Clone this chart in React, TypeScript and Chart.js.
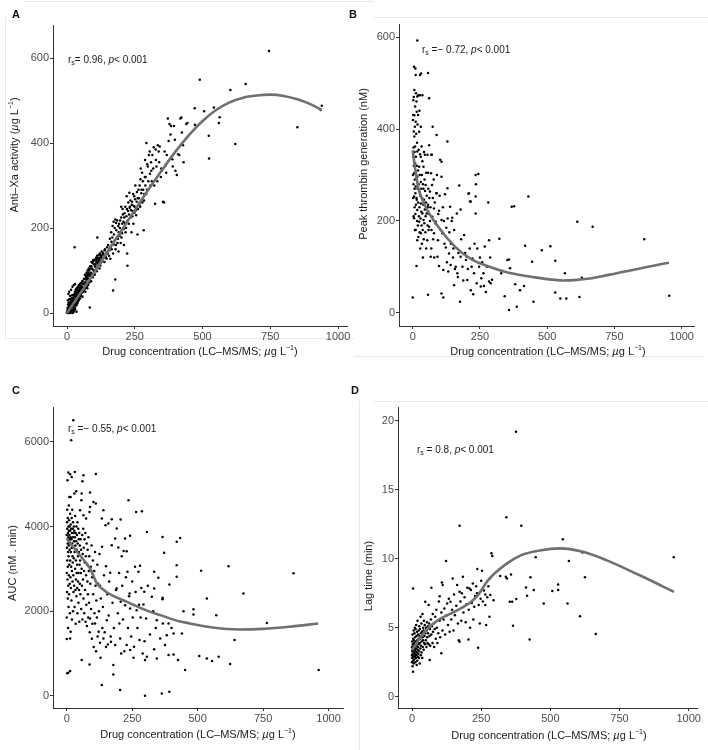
import React, { useEffect, useRef } from "react";
import { Chart, registerables } from "chart.js";
Chart.register(...registerables);

const FONT = '"Liberation Sans", Arial, Helvetica, sans-serif';

// ---------- tick labels ----------
const concTicks = [0, 250, 500, 750, 1000];
const antiXaTicks = [0, 200, 400, 600];
const peakTicks = [0, 200, 400, 600];
const aucTicks = [0, 2000, 4000, 6000];
const lagTicks = [0, 5, 10, 15, 20];

// ---------- Panel A: anti-Xa activity ----------
const antiXaPoints: [number, number][] = [
  [0,2],[1,5],[2,0],[2,12],[3,8],[3,30],[4,3],[4,20],[5,10],[5,1],[5,45],[6,14],[6,25],[7,6],[7,0],[8,4],[8,18],[8,50],[9,12],[9,33],[10,18],[10,7],[10,2],[11,2],[11,24],[12,15],[12,40],[12,0],[13,22],[13,6],[14,9],[14,30],[15,12],[15,55],[15,3],[16,26],[16,18],[17,16],[17,35],[18,5],[18,28],[19,20],[19,42],[20,30],[20,0],[20,62],[21,14],[21,22],[22,24],[22,36],[23,9],[23,2],[24,35],[24,18],[25,19],[25,5],[25,66],[26,28],[26,44],[27,40],[27,12],[28,22],[28,33],[29,13],[29,50],[30,33],[30,8],[30,68],[31,45],[31,25],[32,26],[32,55],[33,38],[33,18],[34,18],[34,44],[35,50],[35,3],[35,30],[36,30],[36,58],[37,42],[37,22],[38,55],[38,35],[39,24],[39,48],[40,36],[40,62],[41,48],[41,28],[42,60],[42,40],[43,30],[43,52],[44,45],[44,66],[45,39],[45,55],[46,66],[46,35],[47,52],[47,42],[48,34],[48,60],[49,58],[49,46],[50,44],[50,70],[51,64],[51,50],[52,40],[52,58],[53,55],[54,70],[54,48],[55,48],[55,62],[56,62],[56,75],[57,38],[57,55],[58,74],[58,60],[59,56],[60,50],[60,68],[28,155],
  [62,68],[62,80],[63,55],[64,80],[65,62],[66,58],[66,90],[67,72],[68,72],[68,50],[69,88],[70,85],[70,64],[71,78],[72,62],[72,95],[73,82],[74,90],[74,70],[75,58],[76,70],[76,100],[77,86],[78,95],[78,66],[79,80],[80,78],[80,105],[81,92],[82,100],[82,72],[83,88],[84,13],[85,88],[85,110],[86,76],[87,105],[88,95],[89,75],[90,110],[90,120],[91,85],[92,92],[93,104],[94,118],[95,84],[96,125],[97,122],[98,100],[99,100],[100,115],[100,125],[101,92],[102,90],[103,110],[104,126],[105,115],[106,108],[107,130],[108,120],[109,125],[110,98],[111,135],[112,130],[112,178],[113,118],[114,112],[115,128],[116,136],[117,122],[118,125],[119,138],[120,105],[121,130],[122,140],[123,112],[124,118],[125,135],[126,132],[127,125],[128,145],[129,130],[130,122],[131,138],[132,128],[133,142],[135,138],[136,130],[138,120],[139,148],[140,150],[141,135],[143,132],[145,142],[146,128],[148,155],[150,140],
  [152,160],[155,135],[156,148],[158,175],[160,128],[161,155],[163,190],[164,168],[165,150],[167,178],[168,205],[170,53],[170,140],[171,162],[172,215],[173,185],[175,170],[176,200],[178,79],[178,220],[179,150],[180,160],[181,212],[182,195],[184,178],[185,218],[186,165],[188,175],[189,205],[190,145],[191,190],[192,210],[194,182],[195,200],[196,218],[198,165],[199,192],[200,225],[200,250],[201,178],[203,188],[204,210],[205,245],[206,232],[208,215],[209,198],[210,160],[211,225],[212,235],[214,212],[215,250],[216,190],[218,200],[219,228],[220,275],[221,245],[222,140],[223,111],[224,218],[225,240],[226,260],[228,210],[229,232],[230,283],[231,248],[232,250],[234,265],[235,225],[236,242],[238,190],[239,255],[240,262],[241,228],[242,240],[244,280],[245,210],[246,252],[248,275],[249,236],[250,250],[251,268],[252,300],[254,242],[255,230],[257,262],[258,285],[260,185],[261,270],[262,245],[264,290],[265,270],[267,255],
  [268,300],[270,250],[271,315],[272,340],[274,282],[275,290],[277,330],[278,260],[280,310],[281,290],[283,195],[284,265],[285,280],[287,320],[288,360],[289,300],[290,320],[292,280],[293,400],[295,290],[296,350],[298,345],[300,310],[302,372],[305,380],[306,328],[308,300],[310,355],[311,335],[313,310],[315,372],[318,340],[320,390],[322,300],[325,257],[327,385],[328,360],[330,345],[333,310],[335,395],[338,380],[340,355],[342,392],[346,320],[348,340],[350,335],[354,262],[358,260],[360,380],[362,346],[366,330],[368,372],[372,458],[375,405],[378,445],[382,420],[384,440],[388,362],[390,345],[395,440],[398,408],[400,335],[405,325],[410,374],[414,372],[418,458],[422,460],[424,425],[428,395],[430,355],[440,445],
  [444,447],[471,482],[472,443],[490,549],[506,475],[523,417],[524,364],[542,484],[560,447],[563,461],[603,525],[621,398],[659,539],[745,617],[850,437],[936,478],[940,488]
];
const antiXaCurve: [number, number][] = [
  [0,0],[50,47],[100,95],[150,145],[200,193],[250,242],[300,290],[350,336],[400,380],[450,419],[500,452],[550,478],[600,496],[650,507],[700,512],[750,514],[800,511],[850,503],[900,491],[940,478]
];

// ---------- Panel B: peak thrombin generation ----------
const peakPoints: [number, number][] = [
  [0,33],[1,300],[1,420],[2,463],[2,431],[2,340],[2,250],[3,360],[3,280],[3,210],[4,470],[4,395],[4,320],[5,536],[5,253],[5,304],[5,206],[6,384],[6,485],[6,430],[7,270],[7,350],[7,230],[8,405],[8,290],[8,180],[9,325],[9,449],[9,362],[10,532],[10,260],[10,215],[11,518],[11,416],[11,275],[11,180],[12,478],[12,340],[12,235],[13,300],[13,390],[14,102],[14,250],[14,460],[15,438],[15,246],[15,320],[16,200],[16,370],[17,593],[17,471],[17,351],[17,296],[17,224],[17,158],[18,410],[18,270],[19,190],[20,431],[20,310],[20,240],[21,474],[21,165],[22,355],[22,280],[23,210],[24,394],[24,318],[24,264],[24,198],[25,440],[25,230],[26,300],[26,175],[27,518],[27,474],[27,345],[28,255],[28,140],[29,205],[30,405],[30,340],[30,285],[30,238],[30,173],[31,521],[32,270],[32,220],[33,362],[33,190],[34,300],[34,150],[35,250],[36,474],[36,216],[36,330],[37,180],[38,280],[38,120],[39,235],[40,318],[40,202],[40,270],[41,160],[42,246],[42,350],[43,195],[44,290],[45,344],[45,225],[46,265],[47,175],[48,278],[48,210],[49,240],[50,305],[50,140],[52,216],[52,255],[54,158],[55,344],[55,190],[56,230],[57,522],[57,305],[57,235],[57,39],[58,270],[59,180],[60,215],
  [61,365],[61,187],[61,467],[62,250],[64,264],[64,200],[66,230],[67,122],[68,304],[69,140],[69,344],[70,180],[71,344],[72,278],[73,209],[74,405],[75,250],[76,160],[78,290],[79,227],[79,173],[80,120],[82,240],[84,195],[86,198],[88,260],[89,387],[89,260],[90,300],[92,122],[94,158],[95,215],[98,222],[98,102],[100,255],[102,333],[104,180],[107,329],[107,296],[107,202],[107,42],[110,173],[112,230],[114,93],[114,33],[116,200],[118,150],[120,258],[123,142],[125,185],[127,110],[129,373],[129,271],[130,205],[132,90],[135,129],[136,175],[139,231],[141,104],[142,150],[145,200],[147,207],[150,120],[151,140],[154,180],[154,60],[157,95],[160,100],
  [164,216],[166,86],[168,78],[170,130],[173,277],[176,24],[178,225],[178,122],[180,160],[185,100],[188,70],[191,169],[195,130],[198,115],[201,122],[203,71],[205,95],[207,259],[209,260],[212,140],[213,242],[216,242],[216,49],[219,100],[222,118],[225,40],[228,86],[230,150],[234,300],[234,253],[234,216],[235,280],[238,64],[240,140],[244,302],[247,100],[250,120],[253,57],[255,75],[258,110],[263,86],[265,58],[268,144],[272,45],[276,100],[281,240],[284,68],[284,158],[288,120],[290,64],[295,72],
  [322,161],[329,86],[342,36],[352,115],[358,116],[358,6],[362,97],[368,231],[377,232],[381,62],[387,13],[399,49],[414,58],[418,146],[430,253],[444,111],[449,24],[480,136],[512,145],[530,113],[530,44],[549,31],[566,86],[571,31],[612,198],[620,34],[629,76],[669,187],[861,160],[954,37]
];
const peakCurve: [number, number][] = [
  [0,354],[10,310],[21,272],[46,233],[95,187],[157,144],[219,116],[280,101],[343,89],[400,82],[455,77],[520,72],[560,70],[600,71],[650,74],[700,79],[750,85],[800,91],[850,97],[900,103],[953,109]
];

// ---------- Panel C: AUC ----------
const aucPoints: [number, number][] = [
  [0,3800],[0,2900],[0,1850],[0,1340],[1,4100],[1,3500],[1,2450],[2,4400],[2,3950],[2,3200],[2,530],[3,3700],[3,2750],[3,5094],[4,4200],[4,3600],[4,3050],[4,2300],[5,3850],[5,3400],[5,1600],[6,5276],[6,4000],[6,3750],[6,2600],[6,543],[7,3300],[7,2100],[8,4500],[8,3900],[8,3550],[8,2850],[9,4150],[9,3650],[9,2400],[10,3800],[10,3100],[10,4700],[11,4000],[11,3450],[11,2650],[12,3700],[12,1950],[13,5236],[13,4300],[13,3900],[13,3200],[13,583],[13,1354],[14,3600],[14,2800],[15,4701],[15,4050],[15,3750],[15,1512],[16,3400],[16,2550],[17,6039],[17,3950],[17,3050],[18,3700],[18,2250],[19,5173],[19,4200],[19,3500],[20,3850],[20,2950],[20,1800],[21,4400],[21,3600],[22,3300],[22,2700],[23,3950],[23,3150],[24,4100],[24,3750],[24,2000],[25,6512],[25,3500],[25,2850],[26,3850],[26,2450],[27,4000],[27,3250],[28,3650],[28,2600],[29,4780],[29,3900],[30,3400],[30,2100],[31,5291],[31,3750],[32,3000],[32,4250],[33,3550],[33,2500],[34,3850],[34,1700],[35,3200],[35,2750],[36,4835],[36,3650],[37,4000],[37,2350],[38,3450],[38,2900],[39,3800],[40,3100],[40,2550],[41,4100],[41,1950],[42,3600],[43,3300],[43,2700],[44,3950],[45,2900],[45,2200],[46,3700],[47,3400],[47,2500],[48,3850],[48,1750],[49,3100],[50,3550],[50,2650],
  [51,4386],[51,3200],[52,2400],[53,3700],[54,2900],[55,3450],[55,2050],[56,4622],[57,4780],[57,843],[57,3000],[58,2600],[59,3800],[60,5071],[60,1800],[61,3350],[62,2750],[63,3950],[64,5213],[64,4268],[64,2300],[65,3500],[66,2950],[67,1950],[68,3700],[69,3150],[70,2500],[71,3850],[72,1750],[73,3300],[74,4189],[74,2850],[75,2150],[76,3600],[77,1650],[78,3100],[79,2700],[80,3450],[81,2400],[82,1850],[83,3750],[84,2950],[85,2200],[86,3300],[87,4346],[87,740],[88,1500],[89,4803],[89,4465],[89,1827],[90,2650],[92,3050],[93,2050],[95,3550],[96,1350],[97,2800],[98,1700],[100,3200],[101,2400],[102,4583],[103,1150],[105,2950],[106,1950],[108,1709],[108,3400],[110,2600],[111,5244],[111,4543],[112,1050],[113,2250],[115,1850],[117,3100],[118,1400],[120,2650],[122,1512],[123,2000],[125,3350],[127,2598],[127,1250],[129,900],[130,2300],
  [134,4189],[134,252],[135,3520],[136,1600],[138,2100],[140,4386],[140,1354],[142,2850],[145,1500],[148,4031],[150,3063],[150,1150],[153,1787],[155,2400],[157,1213],[159,4071],[160,1900],[162,2700],[166,2906],[168,1400],[169,1276],[172,4173],[172,3559],[175,2200],[178,724],[178,504],[180,1600],[185,3717],[185,1197],[188,2500],[191,3953],[191,2535],[195,1950],[197,3504],[200,2900],[201,1709],[204,1354],[204,134],[206,4165],[206,2220],[208,1000],[210,3300],[212,2600],[215,1800],[217,3425],[220,1050],[223,3717],[223,2142],[226,2800],[229,3417],[229,1197],[232,2929],[234,1600],[236,4622],[238,2350],[240,2417],[242,3780],[242,2063],[242,1079],[246,1400],[250,2700],[252,1850],[255,900],[257,1157],[261,3047],[263,2450],[265,4346],[267,2024],[270,1600],[274,2929],[276,2150],[278,1315],[280,3071],[282,1850],[285,2550],[287,4362],[290,1000],[293,2157],[296,2457],[297,1291],[299,843],[299,0],
  [303,1827],[306,3874],[306,921],[310,2600],[318,1450],[325,2339],[330,2000],[334,2929],[334,2535],[334,1102],[340,1600],[344,1787],[344,882],[350,2787],[357,1354],[363,55],[366,3756],[366,2283],[366,2315],[367,1709],[372,3378],[375,1200],[382,1433],[389,1709],[389,961],[392,2630],[392,94],[400,1600],[408,1472],[408,976],[420,3638],[420,3087],[420,2811],[425,843],[433,3732],[440,1472],[446,2000],[452,606],[484,2047],[484,1921],[506,937],[513,2953],[535,2299],[535,882],[555,819],[571,1905],[580,921],[618,3063],[624,748],[641,1315],[675,2417],[764,1717],[866,2898],[962,606]
];
const aucCurve: [number, number][] = [
  [0,3717],[50,3323],[90,3000],[115,2660],[150,2460],[230,2220],[300,2030],[360,1900],[430,1760],[470,1710],[550,1620],[660,1567],[750,1580],[850,1630],[960,1709]
];

// ---------- Panel D: lag time ----------
const lagPoints: [number, number][] = [
  [0,3.0],[0,3.6],[0,2.5],[1,4.0],[1,3.3],[1,2.8],[2,4.5],[2,3.1],[2,2.2],[3,3.8],[3,2.9],[3,3.4],[4,7.85],[4,1.81],[4,4.2],[4,2.6],[5,3.5],[5,3.0],[6,4.8],[6,2.4],[6,3.7],[7,3.2],[7,4.1],[8,2.7],[8,3.9],[9,3.4],[9,4.6],[10,2.9],[10,3.6],[10,5.0],[11,4.3],[11,3.1],[12,2.5],[12,3.8],[13,4.9],[13,3.3],[14,2.8],[14,4.0],[15,3.5],[15,5.2],[16,3.0],[16,4.4],[17,2.3],[17,3.7],[18,4.7],[18,3.2],[19,2.6],[19,4.1],[20,3.9],[20,5.5],[21,3.4],[21,2.9],[22,4.5],[22,3.6],[23,3.1],[24,4.8],[24,4.2],[25,2.8],[25,3.8],[26,5.1],[26,3.3],[27,4.4],[28,2.4],[28,3.9],[29,4.9],[30,3.5],[30,4.2],[31,5.8],[32,3.0],[32,4.6],[33,3.7],[34,5.3],[35,4.0],[35,3.2],[36,4.7],[37,2.8],[38,4.3],[38,6.0],[39,3.6],[40,5.0],[40,4.1],[42,3.4],[42,4.8],[43,5.5],[44,3.9],[45,4.4],[46,5.2],[47,3.8],[48,6.88],[48,4.6],[50,4.1],[50,5.0],[52,3.6],[53,4.8],[54,5.4],[55,4.3],[56,3.9],[57,5.1],[58,4.6],[60,6.64],[60,3.8],[62,5.3],[63,4.4],[64,2.66],[65,4.9],[66,3.7],[68,5.6],[70,7.9],[70,4.5],[72,5.1],[74,3.9],[75,6.0],[76,4.7],[78,5.3],[80,3.6],[82,4.9],[84,5.8],[86,4.2],[88,6.3],[90,5.0],[92,3.9],[95,4.6],[97,6.9],[100,7.29],[100,5.5],[102,4.3],[106,3.14],[106,6.1],[108,8.28],[110,4.8],[111,8.09],[114,5.6],[117,6.4],[120,4.5],[123,9.83],[125,5.9],[127,6.76],[130,5.2],[133,7.1],[136,4.7],[139,6.88],[142,5.6],[145,6.3],[147,8.57],[150,4.8],[152,7.4],[155,5.9],[160,6.6],[163,8.09],[166,5.3],[169,4.1],[172,3.98],[172,7.61],[172,12.4],[175,6.9],[178,5.5],[180,7.5],[184,8.69],[186,6.1],[190,7.2],[194,5.4],[197,6.7],[200,7.9],[204,4.15],[205,6.3],[208,7.85],[210,5.0],[213,7.73],[216,6.8],[220,8.2],[222,5.6],[225,6.52],[228,7.3],[232,8.0],[235,7.49],[236,9.25],[239,3.55],[241,6.64],[245,5.3],[248,7.1],[250,8.4],[253,9.13],[256,6.9],[260,7.7],[265,7.41],[265,6.64],[268,5.2],[272,7.2],[276,8.0],[280,5.8],[281,8.57],[283,7.37],[287,10.4],[290,10.2],[295,7.0],
  [319,8.74],[339,8.69],[341,13.0],[343,8.57],[353,6.88],[358,8.86],[362,6.88],[365,5.14],[376,19.2],[377,7.08],[395,12.4],[412,7.92],[416,7.32],[425,4.15],[428,8.65],[440,7.73],[447,10.1],[476,6.76],[507,7.66],[528,7.73],[528,8.14],[545,11.42],[562,6.76],[567,9.83],[607,5.84],[616,10.46],[625,8.65],[664,4.54],[946,10.1]
];
const lagCurve: [number, number][] = [
  [0,3.38],[46,4.71],[94,5.55],[154,6.16],[214,6.88],[240,7.4],[275,8.45],[335,9.54],[395,10.26],[462,10.6],[534,10.75],[618,10.5],[702,9.9],[823,8.8],[947,7.6]
];

// ---------- text ----------
type Seg = { t: string; i?: boolean; sup?: boolean; sub?: boolean };
const concTitle: Seg[] = [{ t: "Drug concentration (LC\u2013MS/MS; " }, { t: "\u00b5", i: true }, { t: "g L" }, { t: "\u22121", sup: true }, { t: ")" }];
const antiXaTitle: Seg[] = [{ t: "Anti\u2013Xa activity (" }, { t: "\u00b5", i: true }, { t: "g L" }, { t: "\u22121", sup: true }, { t: ")" }];
const peakTitle: Seg[] = [{ t: "Peak thrombin generation (nM)" }];
const aucTitle: Seg[] = [{ t: "AUC (nM . min)" }];
const lagTitle: Seg[] = [{ t: "Lag time (min)" }];
const noteA: Seg[] = [{ t: "r" }, { t: "s", sub: true }, { t: "= 0.96, " }, { t: "p", i: true }, { t: "< 0.001" }];
const noteB: Seg[] = [{ t: "r" }, { t: "s", sub: true }, { t: " =\u2212 0.72, " }, { t: "p", i: true }, { t: "< 0.001" }];
const noteC: Seg[] = [{ t: "r" }, { t: "s", sub: true }, { t: " =\u2212 0.55, " }, { t: "p", i: true }, { t: "< 0.001" }];
const noteD: Seg[] = [{ t: "r" }, { t: "s", sub: true }, { t: " = 0.8, " }, { t: "p", i: true }, { t: "< 0.001" }];

function drawRich(ctx: CanvasRenderingContext2D, segs: Seg[], x: number, y: number, size: number, align: "left" | "center", color: string) {
  const fontFor = (s: Seg) => `${s.i ? "italic " : ""}${s.sup || s.sub ? Math.round(size * 0.68) : size}px ${FONT}`;
  const widths = segs.map((s) => { ctx.font = fontFor(s); return ctx.measureText(s.t).width; });
  const total = widths.reduce((a, b) => a + b, 0);
  let cx = align === "center" ? x - total / 2 : x;
  ctx.fillStyle = color;
  ctx.textAlign = "left";
  ctx.textBaseline = "middle";
  segs.forEach((s, k) => {
    ctx.font = fontFor(s);
    const dy = s.sup ? -size * 0.38 : s.sub ? size * 0.3 : 0;
    ctx.fillText(s.t, cx, y + dy);
    cx += widths[k];
  });
}

interface PanelSpec {
  left: number; top: number; width: number; height: number;
  yAxisWidth: number; padTop: number; padRight: number; xAxisHeight: number;
  xMin: number; xMax: number; yMin: number; yMax: number; yTicks: number[];
  points: [number, number][]; curve: [number, number][];
  xTitle: Seg[]; yTitle: Seg[]; note: Seg[];
  xTitlePos: [number, number]; yTitlePos: [number, number]; notePos: [number, number];
}

const panels: PanelSpec[] = [
  { left: 0, top: 0, width: 354, height: 375, yAxisWidth: 53, padTop: 25, padRight: 7, xAxisHeight: 49,
    xMin: -51.7, xMax: 1033, yMin: -30.6, yMax: 678, yTicks: antiXaTicks, points: antiXaPoints, curve: antiXaCurve,
    xTitle: concTitle, yTitle: antiXaTitle, note: noteA, xTitlePos: [200, 352], yTitlePos: [15, 155], notePos: [68, 60] },
  { left: 354, top: 0, width: 354, height: 375, yAxisWidth: 45, padTop: 24, padRight: 14, xAxisHeight: 49,
    xMin: -51, xMax: 1046, yMin: -29, yMax: 629, yTicks: peakTicks, points: peakPoints, curve: peakCurve,
    xTitle: concTitle, yTitle: peakTitle, note: noteB, xTitlePos: [194, 352], yTitlePos: [10, 164], notePos: [68, 50] },
  { left: 0, top: 375, width: 354, height: 375, yAxisWidth: 53, padTop: 32, padRight: 11, xAxisHeight: 42,
    xMin: -52.4, xMax: 1055, yMin: -290, yMax: 6827, yTicks: aucTicks, points: aucPoints, curve: aucCurve,
    xTitle: concTitle, yTitle: aucTitle, note: noteC, xTitlePos: [198, 360], yTitlePos: [13, 188], notePos: [68, 54] },
  { left: 354, top: 375, width: 354, height: 375, yAxisWidth: 44, padTop: 32, padRight: 11, xAxisHeight: 42,
    xMin: -50.6, xMax: 1030, yMin: -0.82, yMax: 21.0, yTicks: lagTicks, points: lagPoints, curve: lagCurve,
    xTitle: concTitle, yTitle: lagTitle, note: noteD, xTitlePos: [195, 361], yTitlePos: [15, 201], notePos: [63, 75] },
];

const letters: { t: string; x: number; y: number }[] = [
  { t: "A", x: 12, y: 9 }, { t: "B", x: 349, y: 9 }, { t: "C", x: 12, y: 385 }, { t: "D", x: 351, y: 385 },
];

const frameLines: { x: number; y: number; w: number; h: number }[] = [
  { x: 25, y: 1, w: 349, h: 1 }, { x: 5, y: 17, w: 1, h: 321 }, { x: 5, y: 338, w: 349, h: 1 },
  { x: 374, y: 17, w: 334, h: 1 }, { x: 354, y: 356, w: 350, h: 1 },
  { x: 374, y: 401, w: 334, h: 1 }, { x: 359, y: 401, w: 1, h: 349 },
];

function Panel({ spec }: { spec: PanelSpec }) {
  const ref = useRef<HTMLCanvasElement>(null);
  useEffect(() => {
    if (!ref.current) return;
    const axisColor = "#333333";
    const tickFont = { family: FONT, size: 11 };
    const titlePlugin = {
      id: "richTitles",
      afterDraw(chart: any) {
        const ctx = chart.ctx as CanvasRenderingContext2D;
        ctx.save();
        drawRich(ctx, spec.xTitle, spec.xTitlePos[0], spec.xTitlePos[1], 11, "center", "#1a1a1a");
        ctx.save();
        ctx.translate(spec.yTitlePos[0], spec.yTitlePos[1]);
        ctx.rotate(-Math.PI / 2);
        drawRich(ctx, spec.yTitle, 0, 0, 11, "center", "#1a1a1a");
        ctx.restore();
        drawRich(ctx, spec.note, spec.notePos[0], spec.notePos[1], 10, "left", "#1a1a1a");
        ctx.restore();
      },
    };
    const chart = new Chart(ref.current, {
      type: "scatter",
      data: {
        datasets: [
          {
            data: spec.curve.map(([x, y]) => ({ x, y })),
            showLine: true,
            borderColor: "#707070",
            borderWidth: 2.6,
            pointRadius: 0,
            cubicInterpolationMode: "monotone",
            fill: false,
            order: 0,
          } as any,
          {
            data: spec.points.map(([x, y]) => ({ x, y })),
            showLine: false,
            pointRadius: 1.25,
            pointBackgroundColor: "#000000",
            pointBorderWidth: 0,
            borderWidth: 0,
            order: 1,
          } as any,
        ],
      },
      options: {
        animation: false,
        responsive: false,
        devicePixelRatio: 1,
        events: [],
        layout: { padding: { left: 0, top: spec.padTop, right: spec.padRight, bottom: 0 } },
        plugins: { legend: { display: false }, tooltip: { enabled: false } },
        scales: {
          x: {
            type: "linear",
            min: spec.xMin,
            max: spec.xMax,
            afterBuildTicks: (s: any) => { s.ticks = concTicks.map((v) => ({ value: v })); },
            afterFit: (s: any) => { s.height = spec.xAxisHeight; },
            grid: { display: true, drawOnChartArea: false, drawTicks: true, tickLength: 3, color: axisColor, lineWidth: 1 },
            border: { display: true, color: axisColor, width: 1 },
            ticks: { font: tickFont, color: "#4d4d4d", padding: 1, maxRotation: 0, autoSkip: false, callback: (v: any) => String(v) },
          },
          y: {
            type: "linear",
            min: spec.yMin,
            max: spec.yMax,
            afterBuildTicks: (s: any) => { s.ticks = spec.yTicks.map((v) => ({ value: v })); },
            afterFit: (s: any) => { s.width = spec.yAxisWidth; },
            grid: { display: true, drawOnChartArea: false, drawTicks: true, tickLength: 3, color: axisColor, lineWidth: 1 },
            border: { display: true, color: axisColor, width: 1 },
            ticks: { font: tickFont, color: "#4d4d4d", padding: 1, autoSkip: false, callback: (v: any) => String(v) },
          },
        },
      },
      plugins: [titlePlugin],
    } as any);
    return () => chart.destroy();
  }, [spec]);
  return (
    <canvas
      ref={ref}
      width={spec.width}
      height={spec.height}
      style={{ position: "absolute", left: spec.left, top: spec.top, width: spec.width, height: spec.height }}
    />
  );
}

export default function App() {
  return (
    <div style={{ position: "absolute", left: 0, top: 0, width: 708, height: 750, background: "#ffffff", overflow: "hidden" }}>
      {frameLines.map((l, k) => (
        <div key={"f" + k} style={{ position: "absolute", left: l.x, top: l.y, width: l.w, height: l.h, background: "#e9e9e9" }} />
      ))}
      {panels.map((p, k) => (
        <Panel key={k} spec={p} />
      ))}
      {letters.map((l) => (
        <div
          key={l.t}
          style={{ position: "absolute", left: l.x, top: l.y, font: `bold 11px ${FONT}`, lineHeight: "11px", color: "#111" }}
        >
          {l.t}
        </div>
      ))}
    </div>
  );
}
